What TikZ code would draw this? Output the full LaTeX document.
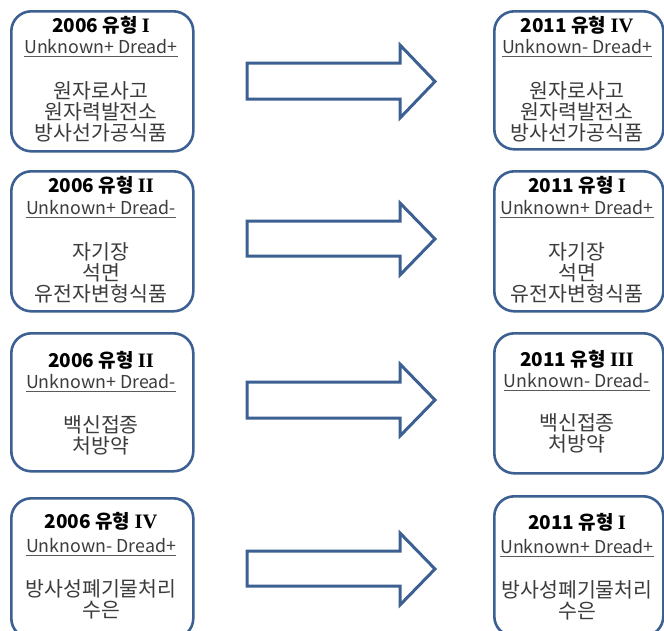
\documentclass[tikz,border=0pt]{standalone}
\usepackage{fontspec}
\setmainfont{Noto Sans CJK KR}
\newfontfamily\romfont{Liberation Serif}
\definecolor{frame}{RGB}{60,96,146}
\definecolor{txt}{RGB}{60,60,60}
\definecolor{uline}{RGB}{90,90,90}
\tikzset{
  card/.style={draw=frame, line width=2.6pt, rounded corners=20pt, anchor=north west, inner sep=0pt, fill=white},
  lcard/.style={card, minimum width=182pt, minimum height=140pt},
  rcard/.style={card, minimum width=169pt, minimum height=140pt},
  ttl/.style={anchor=base, font=\fontsize{19}{22}\selectfont\bfseries, text=black, inner sep=0pt},
  sub/.style={anchor=base, font=\fontsize{17.8}{21}\selectfont, text=txt, inner sep=0pt},
  body/.style={anchor=base, font=\fontsize{20.5}{23}\selectfont, text=txt, inner sep=0pt},
  ul/.style={draw=uline, line width=1.3pt},
  blockarrow/.style={draw=frame, line width=3pt, fill=white, line join=miter},
}
\newcommand{\rn}[1]{{\romfont\bfseries\fontsize{20.5}{22}\selectfont #1}}
\begin{document}
\begin{tikzpicture}[x=1pt,y=-1pt]
\useasboundingbox (0,0) rectangle (664,630);
\clip (0,0) rectangle (664,630);
% ---------- boxes ----------
\node[lcard] (L1) at (10,10) {};
\node[lcard] (L2) at (10,170) {};
\node[lcard, minimum height=138pt] (L3) at (10,332) {};
\node[lcard] (L4) at (10,497) {};
\node[rcard, minimum height=138pt] (R1) at (493,10) {};
\node[rcard] (R2) at (493,170) {};
\node[rcard] (R3) at (493,332) {};
\node[rcard] (R4) at (493,495) {};
% ---------- row 1 ----------
\node[ttl] (L1t) at (101,32) {2006 유형 \rn{I}};
\node[sub] (L1s) at (101,53) {Unknown+ Dread+};
\node[body] (L1a) at (101,98) {원자로사고};
\node[body] (L1b) at (101,119) {원자력발전소};
\node[body] (L1c) at (101,140) {방사선가공식품};
\node[ttl] (R1t) at (577,32) {2011 유형 \rn{IV}};
\node[sub] (R1s) at (577,53) {Unknown- Dread+};
\node[body] (R1a) at (577,98) {원자로사고};
\node[body] (R1b) at (577,119) {원자력발전소};
\node[body] (R1c) at (577,140) {방사선가공식품};
% ---------- row 2 ----------
\node[ttl] (L2t) at (101,192) {2006 유형 \rn{II}};
\node[sub] (L2s) at (101,214) {Unknown+ Dread-};
\node[body] (L2a) at (101,259) {자기장};
\node[body] (L2b) at (101,280) {석면};
\node[body] (L2c) at (101,301) {유전자변형식품};
\node[ttl] (R2t) at (577,192) {2011 유형 \rn{I}};
\node[sub] (R2s) at (577,214) {Unknown+ Dread+};
\node[body] (R2a) at (577,259) {자기장};
\node[body] (R2b) at (577,280) {석면};
\node[body] (R2c) at (577,301) {유전자변형식품};
% ---------- row 3 ----------
\node[ttl] (L3t) at (101,367) {2006 유형 \rn{II}};
\node[sub] (L3s) at (101,388) {Unknown+ Dread-};
\node[body] (L3a) at (101,432) {백신접종};
\node[body] (L3b) at (101,453) {처방약};
\node[ttl] (R3t) at (577,366) {2011 유형 \rn{III}};
\node[sub] (R3s) at (577,387) {Unknown- Dread-};
\node[body] (R3a) at (577,430) {백신접종};
\node[body] (R3b) at (577,451) {처방약};
% ---------- row 4 ----------
\node[ttl] (L4t) at (101,528) {2006 유형 \rn{IV}};
\node[sub] (L4s) at (101,552) {Unknown- Dread+};
\node[body] (L4a) at (101,596) {방사성폐기물처리};
\node[body] (L4b) at (101,617) {수은};
\node[ttl] (R4t) at (577,529) {2011 유형 \rn{I}};
\node[sub] (R4s) at (577,553) {Unknown+ Dread+};
\node[body] (R4a) at (577,597) {방사성폐기물처리};
\node[body] (R4b) at (577,618) {수은};
% ---------- underlines ----------
\foreach \n in {L1s,R1s,L2s,R2s,L3s,R3s,L4s,R4s}{
  \draw[ul] ([yshift=-3.5pt]\n.base west) -- ([yshift=-3.5pt]\n.base east);
}
% ---------- block arrows ----------
\foreach \yt/\yb/\ht/\hb in {63/99/45/118, 221/256/203/275, 382/418/364/436, 551/586/533/605}{
  \draw[blockarrow] (247,\yt) -- (400,\yt) -- (400,\ht) -- (435,{(\ht+\hb)/2}) -- (400,\hb) -- (400,\yb) -- (247,\yb) -- cycle;
}
\end{tikzpicture}
\end{document}
